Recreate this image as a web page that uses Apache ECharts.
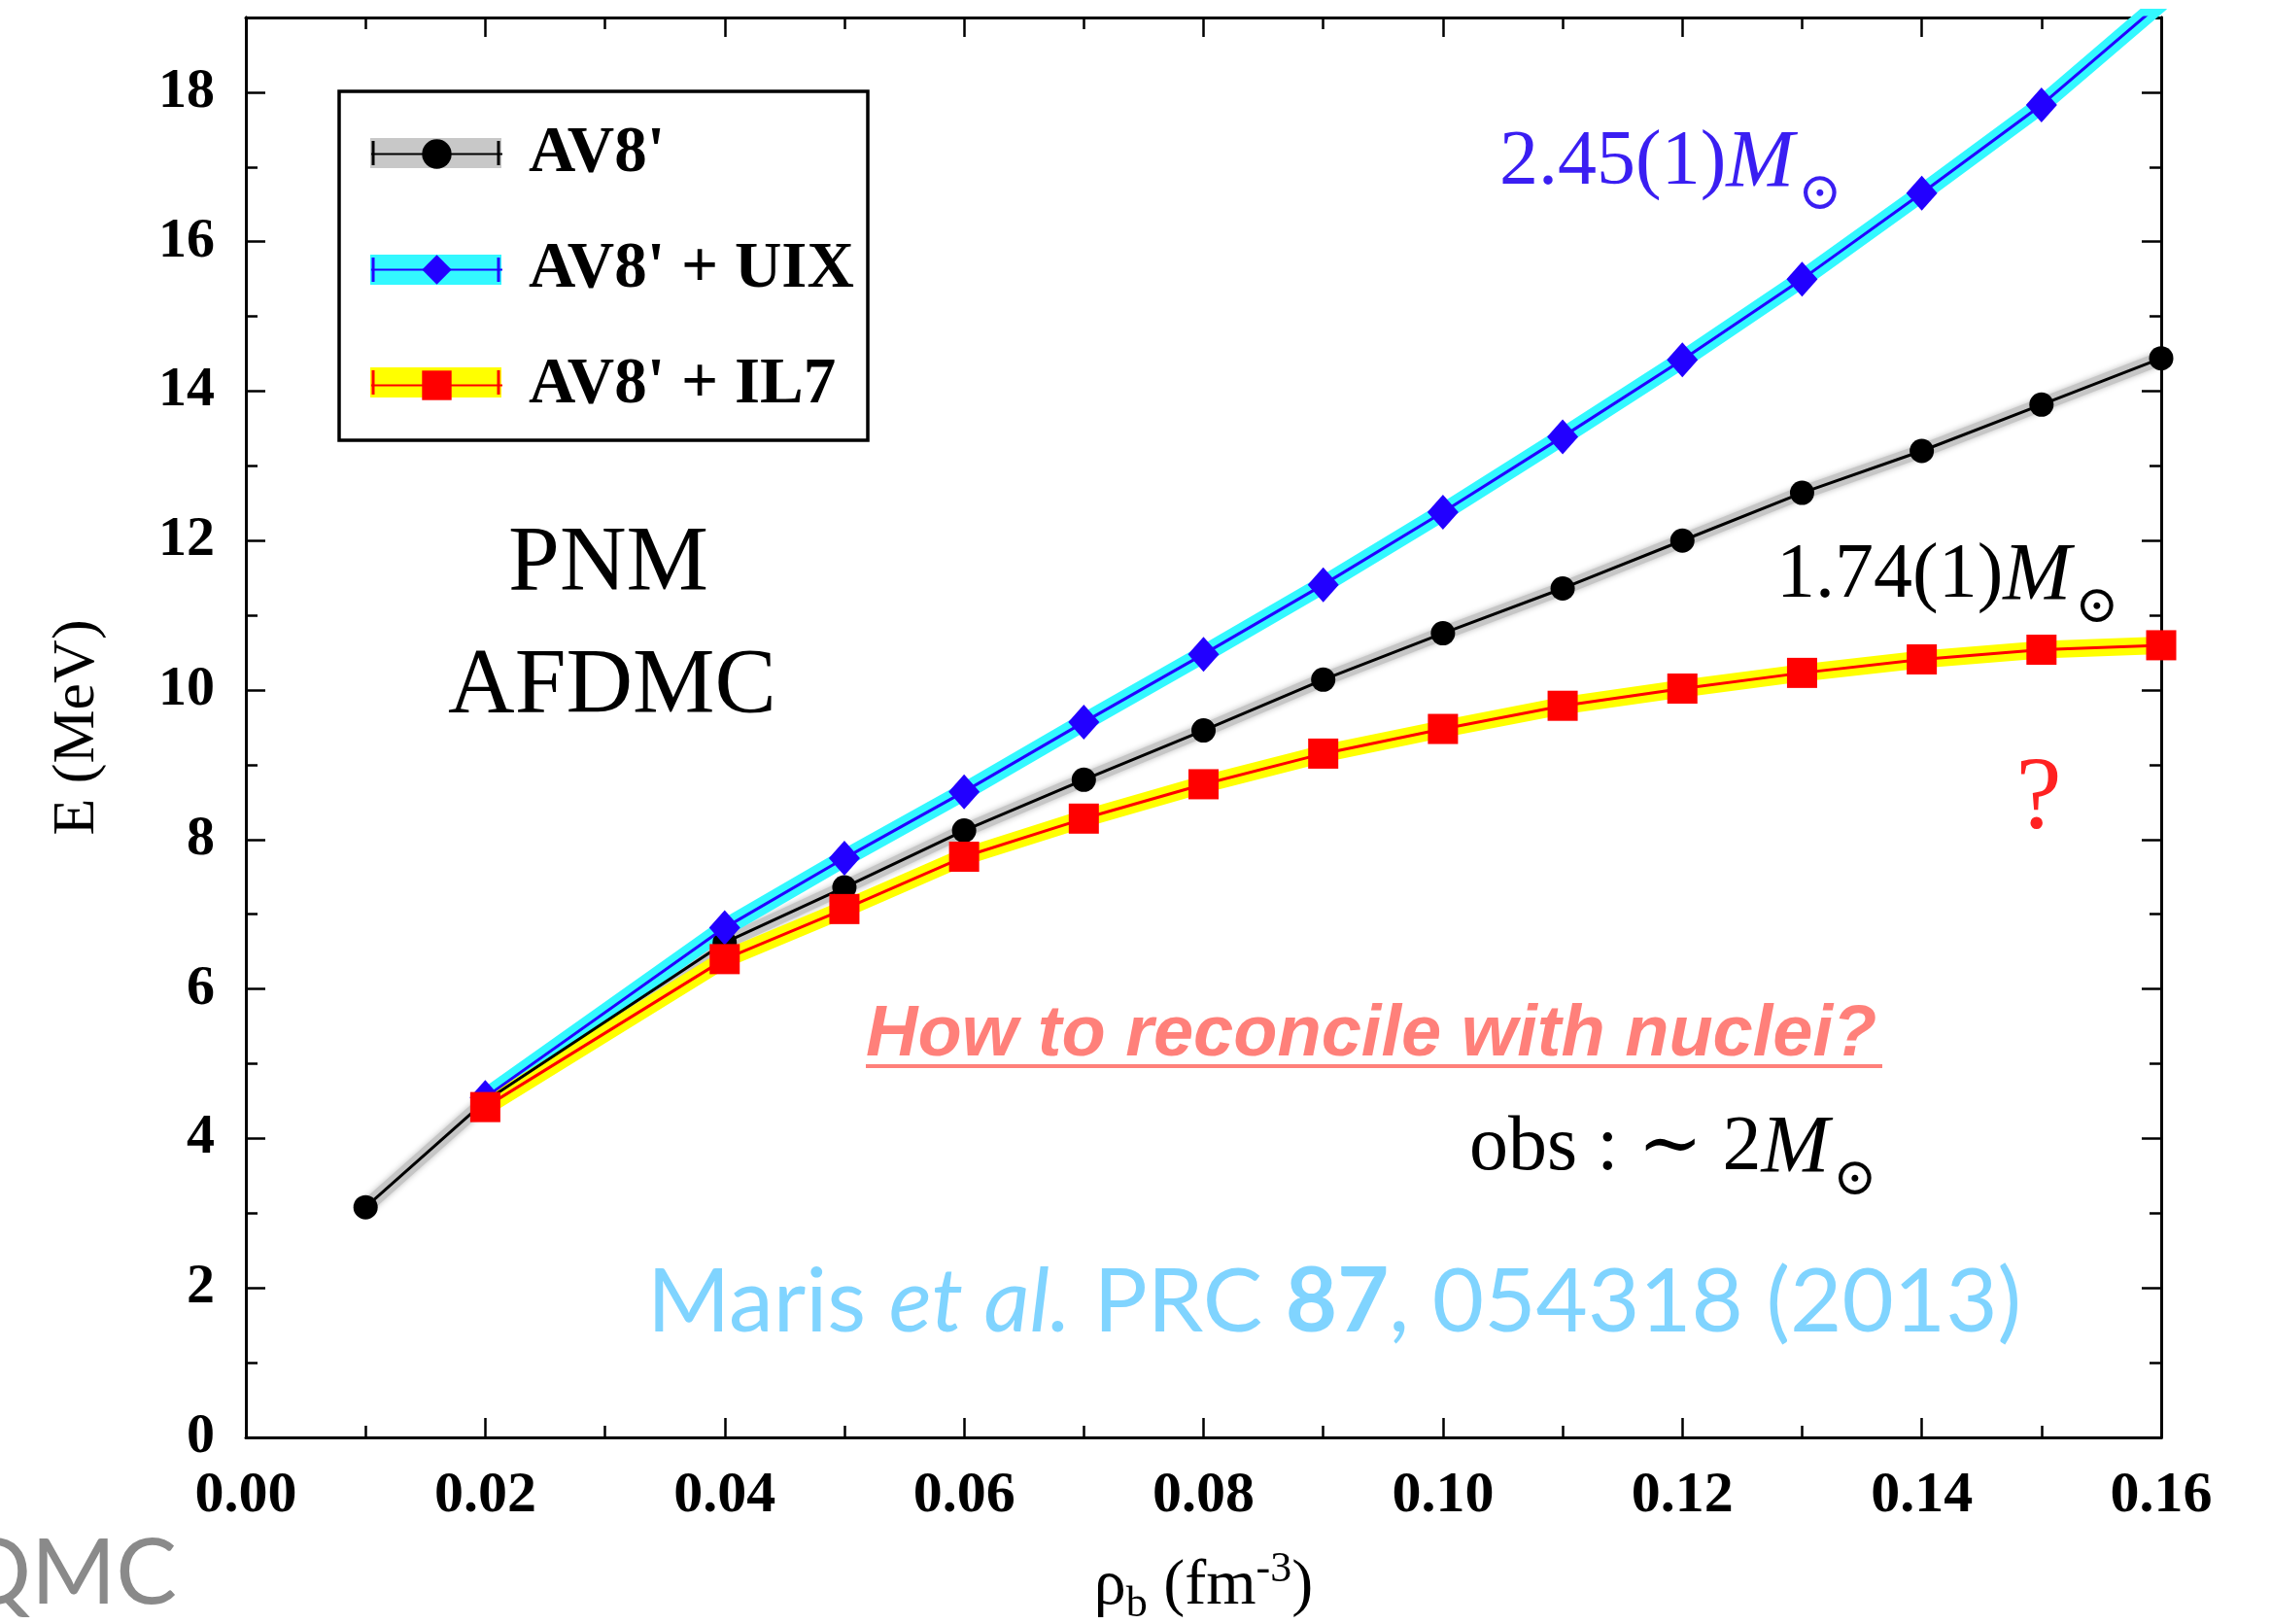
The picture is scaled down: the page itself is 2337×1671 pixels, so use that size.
<!DOCTYPE html>
<html>
<head>
<meta charset="utf-8">
<title>PNM AFDMC</title>
<script src="https://cdn.jsdelivr.net/npm/echarts@6/dist/echarts.min.js"></script>
<style>
html, body { margin: 0; padding: 0; background: #fff; }
#chart { width: 2337px; height: 1671px; }
</style>
</head>
<body>
<div id="chart"></div>
<script>
// densities (fm^-3)
var rhoAV8 = [0.01, 0.02, 0.04, 0.05, 0.06, 0.07, 0.08, 0.09, 0.10, 0.11, 0.12, 0.13, 0.14, 0.15, 0.16];
var rhoNNN = [0.02, 0.04, 0.05, 0.06, 0.07, 0.08, 0.09, 0.10, 0.11, 0.12, 0.13, 0.14, 0.15, 0.16];
// energies per neutron (MeV)
var eAV8 = [3.08, 4.50, 6.62, 7.36, 8.12, 8.80, 9.46, 10.14, 10.76, 11.36, 12.00, 12.64, 13.20, 13.82, 14.44];
var eUIX = [4.55, 6.82, 7.75, 8.64, 9.57, 10.48, 11.41, 12.38, 13.39, 14.42, 15.50, 16.65, 17.83, 19.20];
var eIL7 = [4.42, 6.40, 7.07, 7.77, 8.28, 8.74, 9.15, 9.48, 9.79, 10.02, 10.23, 10.41, 10.54, 10.60];
var names = ["AV8'", "AV8' + UIX", "AV8' + IL7"];

var serif = "'Liberation Serif', 'DejaVu Serif', serif";

function pairs(xs, ys) {
    return xs.map(function (x, i) { return [x, ys[i]]; });
}

var chart = echarts.init(document.getElementById('chart'));

function xAxisDef(pos) {
    return {
        type: 'value', position: pos, min: 0, max: 0.16, interval: 0.02,
        axisLine: { show: true, onZero: false, lineStyle: { color: '#000', width: 3 } },
        axisTick: { show: true, inside: true, length: 20, lineStyle: { color: '#000', width: 2.5 } },
        minorTick: { show: true, splitNumber: 2, length: 12, lineStyle: { color: '#000', width: 2.5 } },
        splitLine: { show: false },
        axisLabel: {
            show: pos === 'bottom', margin: 30, color: '#000',
            fontFamily: serif, fontWeight: 'bold', fontSize: 60,
            formatter: function (v) { return v.toFixed(2); }
        }
    };
}

function yAxisDef(pos, step, len, labels) {
    return {
        type: 'value', position: pos, min: 0, max: 19, interval: step,
        axisLine: { show: true, onZero: false, lineStyle: { color: '#000', width: 3 } },
        axisTick: { show: true, inside: true, length: len, lineStyle: { color: '#000', width: 2.5 } },
        splitLine: { show: false },
        axisLabel: {
            show: labels, margin: 32, color: '#000', showMaxLabel: false,
            fontFamily: serif, fontWeight: 'bold', fontSize: 58
        }
    };
}

var xMain = xAxisDef('bottom');
xMain.name = '{t|ρ}{sub|b}{t| (fm}{sup|-3}{t|)}';
xMain.nameLocation = 'middle';
xMain.nameGap = 114;
xMain.nameTextStyle = {
    color: '#000',
    rich: {
        t: { fontFamily: serif, fontSize: 66, lineHeight: 80, verticalAlign: 'middle', color: '#000' },
        sub: { fontFamily: serif, fontSize: 44, lineHeight: 44, verticalAlign: 'bottom', color: '#000' },
        sup: { fontFamily: serif, fontSize: 44, lineHeight: 44, verticalAlign: 'top', color: '#000' }
    }
};

var yMain = yAxisDef('left', 2, 20, true);
yMain.name = 'E (MeV)';
yMain.nameLocation = 'middle';
yMain.nameRotate = 90;
yMain.nameGap = 142;
yMain.nameTextStyle = { fontFamily: serif, fontSize: 62, color: '#000' };

var bandBase = { type: 'line', symbol: 'none', silent: true, z: 1, xAxisIndex: 0, yAxisIndex: 0 };

var annoRich = function (color) {
    return {
        n: { fontFamily: serif, fontSize: 80, lineHeight: 80, verticalAlign: 'top', fill: color, color: color },
        it: { fontFamily: serif, fontStyle: 'italic', fontSize: 84, lineHeight: 80, verticalAlign: 'top', fill: color, color: color },
        sun: { fontFamily: "'DejaVu Serif', serif", fontSize: 54, lineHeight: 54, verticalAlign: 'top', padding: [46, 0, 0, 4], fill: color, color: color }
    };
};

var option = {
    backgroundColor: '#fff',
    animation: false,
    grid: { left: 253, right: 113, top: 18, bottom: 192, containLabel: false, outerBoundsMode: 'none' },
    xAxis: [xMain, xAxisDef('top')],
    yAxis: [yMain, yAxisDef('left', 1, 12, false), yAxisDef('right', 2, 20, false), yAxisDef('right', 1, 12, false)],
    legend: {
        data: names,
        orient: 'vertical',
        left: 381, top: 125,
        padding: 0,
        itemWidth: 135, itemHeight: 38, itemGap: 52,
        selectedMode: false,
        textStyle: { fontFamily: serif, fontWeight: 'bold', fontSize: 67, lineHeight: 64, color: '#000', padding: [0, 0, 0, 22] }
    },
    graphic: [
        // legend frame and uncertainty bands behind the legend icons
        { type: 'rect', shape: { x: 349, y: 94, width: 544, height: 359 }, style: { fill: 'none', stroke: '#000', lineWidth: 3.5 } },
        { type: 'rect', shape: { x: 381, y: 142, width: 135, height: 31 }, style: { fill: '#c8c8c8' } },
        { type: 'rect', shape: { x: 381, y: 262, width: 135, height: 31 }, style: { fill: '#33f8ff' } },
        { type: 'rect', shape: { x: 381, y: 378, width: 135, height: 31 }, style: { fill: '#ffff00' } },
        { type: 'line', shape: { x1: 384, y1: 145, x2: 384, y2: 170 }, style: { stroke: '#000', lineWidth: 3 } },
        { type: 'line', shape: { x1: 513, y1: 145, x2: 513, y2: 170 }, style: { stroke: '#000', lineWidth: 3 } },
        { type: 'line', shape: { x1: 384, y1: 265, x2: 384, y2: 290 }, style: { stroke: '#2200ff', lineWidth: 3 } },
        { type: 'line', shape: { x1: 513, y1: 265, x2: 513, y2: 290 }, style: { stroke: '#2200ff', lineWidth: 3 } },
        { type: 'line', shape: { x1: 384, y1: 381, x2: 384, y2: 406 }, style: { stroke: '#ff0000', lineWidth: 3 } },
        { type: 'line', shape: { x1: 513, y1: 381, x2: 513, y2: 406 }, style: { stroke: '#ff0000', lineWidth: 3 } },
        // annotations
        { type: 'text', x: 626, y: 582, style: { text: 'PNM', fontFamily: serif, fontSize: 95, fill: '#000', align: 'center', verticalAlign: 'middle', textAlign: 'center', textVerticalAlign: 'middle' } },
        { type: 'text', x: 630, y: 708, style: { text: 'AFDMC', fontFamily: serif, fontSize: 95, fill: '#000', align: 'center', verticalAlign: 'middle', textAlign: 'center', textVerticalAlign: 'middle' } },
        { type: 'text', x: 1543, y: 128, style: { text: '{n|2.45(1)}{it|M}{sun|⊙}', rich: annoRich('#3a1ef2'), fill: '#3a1ef2', align: 'left', verticalAlign: 'top', textAlign: 'left', textVerticalAlign: 'top' } },
        { type: 'text', x: 1828, y: 553, style: { text: '{n|1.74(1)}{it|M}{sun|⊙}', rich: annoRich('#000'), fill: '#000', align: 'left', verticalAlign: 'top', textAlign: 'left', textVerticalAlign: 'top' } },
        { type: 'text', x: 1512, y: 1142, style: { text: '{n|obs : ∼ 2}{it|M}{sun|⊙}', rich: annoRich('#000'), fill: '#000', align: 'left', verticalAlign: 'top', textAlign: 'left', textVerticalAlign: 'top' } },
        { type: 'text', x: 2098, y: 824, style: { text: '?', fontFamily: serif, fontSize: 106, fill: '#ff2222', align: 'center', verticalAlign: 'middle', textAlign: 'center', textVerticalAlign: 'middle' } },
        { type: 'text', x: 891, y: 1066, style: { text: 'How to reconcile with nuclei?', fontFamily: "'Liberation Sans', Arial, sans-serif", fontWeight: 'bold', fontStyle: 'italic', fontSize: 74, fill: '#ff807a', align: 'left', verticalAlign: 'middle', textAlign: 'left', textVerticalAlign: 'middle' } },
        { type: 'line', shape: { x1: 891, y1: 1097, x2: 1937, y2: 1097 }, style: { stroke: '#ff807a', lineWidth: 4 } },
        { type: 'text', x: 666, y: 1340, style: {
            text: '{r|Maris }{i|et al.}{r| PRC }{b|87}{r|, 054318 (2013)}',
            rich: {
                r: { fontFamily: 'Lato, sans-serif', fontSize: 92, fill: '#80d4ff', color: '#80d4ff' },
                i: { fontFamily: 'Lato, sans-serif', fontStyle: 'italic', fontSize: 92, fill: '#80d4ff', color: '#80d4ff' },
                b: { fontFamily: 'Lato, sans-serif', fontWeight: 'bold', fontSize: 92, fill: '#80d4ff', color: '#80d4ff' }
            },
            align: 'left', verticalAlign: 'middle', textAlign: 'left', textVerticalAlign: 'middle' } },
        { type: 'text', x: 182, y: 1620, style: { text: 'QMC', fontFamily: 'Lato, sans-serif', fontSize: 94, fill: '#8a8a8a', align: 'right', verticalAlign: 'middle', textAlign: 'right', textVerticalAlign: 'middle' } }
    ],
    series: [
        Object.assign({}, bandBase, { name: 'AV8 band', data: pairs(rhoAV8, eAV8),
            lineStyle: { color: '#c6c6c6', width: 14, shadowBlur: 6, shadowColor: 'rgba(0,0,0,0.25)' } }),
        Object.assign({}, bandBase, { name: 'UIX band', data: pairs(rhoNNN, eUIX),
            lineStyle: { color: '#33f8ff', width: 18 } }),
        Object.assign({}, bandBase, { name: 'IL7 band', data: pairs(rhoNNN, eIL7),
            lineStyle: { color: '#ffff00', width: 18 } }),
        {
            name: names[0], type: 'line', z: 3, data: pairs(rhoAV8, eAV8),
            symbol: 'circle', symbolSize: 25,
            itemStyle: { color: '#000' }, lineStyle: { color: '#000', width: 3 }
        },
        {
            name: names[1], type: 'line', z: 4, data: pairs(rhoNNN, eUIX),
            symbol: 'diamond', symbolSize: [32, 36],
            itemStyle: { color: '#2200ff' }, lineStyle: { color: '#2200ff', width: 3 }
        },
        {
            name: names[2], type: 'line', z: 5, data: pairs(rhoNNN, eIL7),
            symbol: 'rect', symbolSize: 31,
            itemStyle: { color: '#ff0000' }, lineStyle: { color: '#ff0000', width: 3 }
        }
    ]
};

chart.setOption(option);
</script>
</body>
</html>
